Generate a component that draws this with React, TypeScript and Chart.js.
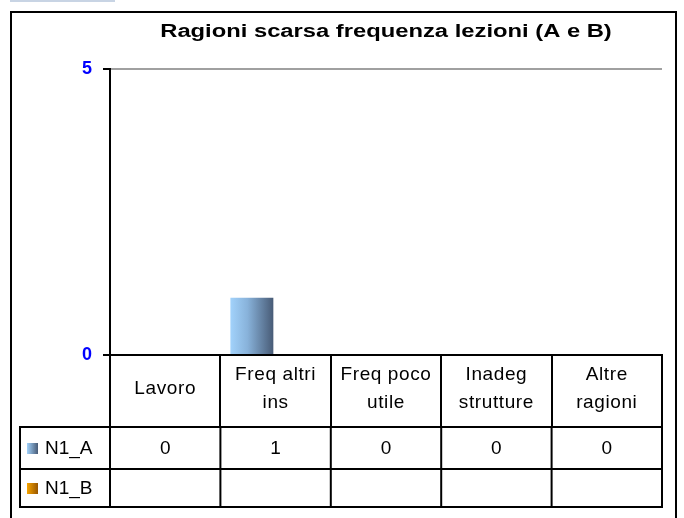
import React, { useEffect, useRef } from 'react';
import { Chart, registerables } from 'chart.js';

Chart.register(...registerables);

const TITLE = 'Ragioni scarsa frequenza lezioni (A e B)';
const categories: string[][] = [
  ['Lavoro'],
  ['Freq altri', 'ins'],
  ['Freq poco', 'utile'],
  ['Inadeg', 'strutture'],
  ['Altre', 'ragioni'],
];
const seriesNames = ['N1_A', 'N1_B'];
const n1A: (number | null)[] = [0, 1, 0, 0, 0];
const n1B: (number | null)[] = [null, null, null, null, null];
const yMin = 0;
const yMax = 5;
const yStep = 5;

const FONT = '"Liberation Sans", Arial, sans-serif';
const gradA = ['#a2d2fb', '#88b2da', '#485b76'];
const gradB = ['#f6a400', '#d68800', '#985600'];
const CAT_PCT = 0.86;
const BAR_PCT = 0.905;

function barGradient(ctx: any, stops: string[], dsIndex: number) {
  const chart = ctx.chart;
  const xs = chart.scales?.x;
  if (!xs || !chart.chartArea) return stops[0];
  const n = categories.length;
  const catW = (xs.right - xs.left) / n;
  const slot = (catW * CAT_PCT) / 2;
  const barW = slot * BAR_PCT;
  const center = xs.getPixelForValue(ctx.dataIndex ?? 0);
  const left = center - (catW * CAT_PCT) / 2 + dsIndex * slot + (slot - barW) / 2;
  const g = chart.ctx.createLinearGradient(left, 0, left + barW, 0);
  g.addColorStop(0, stops[0]);
  g.addColorStop(0.4, stops[1]);
  g.addColorStop(1, stops[2]);
  return g;
}

const spacingPlugin = {
  id: 'textSpacing',
  beforeDraw(chart: any) {
    chart.ctx.letterSpacing = '0.6px';
  },
  afterDraw(chart: any) {
    chart.ctx.letterSpacing = '0px';
  },
};

const titlePlugin = {
  id: 'stretchedTitle',
  afterDraw(chart: any) {
    const ctx = chart.ctx;
    const ca = chart.chartArea;
    const cx = (ca.left + ca.right) / 2;
    ctx.save();
    ctx.letterSpacing = '0px';
    ctx.translate(cx, 37);
    ctx.scale(1.32, 1);
    ctx.font = `bold 18px ${FONT}`;
    ctx.fillStyle = '#000';
    ctx.textAlign = 'center';
    ctx.textBaseline = 'alphabetic';
    ctx.fillText(TITLE, 0, 0);
    ctx.restore();
  },
};

const tablePlugin = {
  id: 'dataTable',
  afterDraw(chart: any) {
    const ctx = chart.ctx;
    const xs = chart.scales.x;
    const n = categories.length;
    const top = xs.bottom;
    const rowH = [42, 38];
    const tableLeft = 20;
    const edges: number[] = [];
    for (let i = 0; i <= n; i++) edges.push(xs.left + ((xs.right - xs.left) * i) / n);
    const bottom = top + rowH[0] + rowH[1];
    ctx.save();
    ctx.strokeStyle = '#000';
    ctx.lineWidth = 2;
    ctx.beginPath();
    const ys = [top, top + rowH[0], bottom];
    ys.forEach((yy) => {
      ctx.moveTo(tableLeft, yy);
      ctx.lineTo(xs.right + 1, yy);
    });
    ctx.moveTo(tableLeft, top - 1);
    ctx.lineTo(tableLeft, bottom + 1);
    edges.forEach((x) => {
      ctx.moveTo(x, top - 1);
      ctx.lineTo(x, bottom + 1);
    });
    ctx.stroke();

    const rows = [n1A, n1B];
    const grads = [gradA, gradB];
    ctx.font = `19px ${FONT}`;
    ctx.textBaseline = 'middle';
    let y = top;
    rows.forEach((vals, r) => {
      const cy = y + rowH[r] / 2;
      const g = ctx.createLinearGradient(27, 0, 38, 0);
      g.addColorStop(0, grads[r][0]);
      g.addColorStop(1, grads[r][2]);
      ctx.fillStyle = g;
      ctx.fillRect(27, cy - 5, 11, 11);
      ctx.fillStyle = '#000';
      ctx.textAlign = 'left';
      ctx.fillText(seriesNames[r], 45, cy + 1);
      ctx.textAlign = 'center';
      vals.forEach((v, i) => {
        if (v === null || v === undefined) return;
        ctx.fillText(String(v), (edges[i] + edges[i + 1]) / 2, cy + 1);
      });
      y += rowH[r];
    });
    ctx.restore();
  },
};

export default function App() {
  const ref = useRef<HTMLCanvasElement | null>(null);
  useEffect(() => {
    if (!ref.current) return;
    const chart = new Chart(ref.current, {
      type: 'bar',
      data: {
        labels: categories,
        datasets: [
          {
            label: seriesNames[0],
            data: n1A,
            backgroundColor: (c: any) => barGradient(c, gradA, 0),
            borderWidth: 0,
            categoryPercentage: CAT_PCT,
            barPercentage: BAR_PCT,
          },
          {
            label: seriesNames[1],
            data: n1B,
            backgroundColor: (c: any) => barGradient(c, gradB, 1),
            borderWidth: 0,
            categoryPercentage: CAT_PCT,
            barPercentage: BAR_PCT,
          },
        ],
      },
      options: {
        responsive: false,
        animation: false,
        layout: { padding: { left: 110, right: 22, top: 69, bottom: 91 } },
        plugins: {
          legend: { display: false },
          tooltip: { enabled: false },
          title: { display: false },
        },
        scales: {
          x: {
            offset: true,
            grid: {
              offset: true,
              drawOnChartArea: false,
              drawTicks: true,
              tickLength: 72,
              tickColor: '#000',
              lineWidth: 2,
            },
            border: { display: true, color: '#000', width: 2 },
            ticks: {
              color: '#000',
              font: { family: FONT, size: 19, lineHeight: 1.5 },
              autoSkip: false,
              maxRotation: 0,
              minRotation: 0,
              crossAlign: 'center',
              padding: -52.5,
            },
            afterFit: (s: any) => {
              s.height = 72;
            },
          },
          y: {
            min: yMin,
            max: yMax,
            grid: {
              color: (c: any) => (c.tick && c.tick.value === 0 ? '#000' : '#a0a0a0'),
              tickColor: '#000',
              lineWidth: 2,
              tickLength: 7,
              drawTicks: true,
            },
            border: { display: true, color: '#000', width: 2 },
            ticks: {
              stepSize: yStep,
              color: '#0000ff',
              font: { family: FONT, size: 18, weight: 'bold' },
              mirror: true,
              crossAlign: 'near',
              padding: -28,
            },
            afterFit: (s: any) => {
              s.width = 0;
            },
          },
        },
      },
      plugins: [spacingPlugin, titlePlugin, tablePlugin],
    });
    return () => chart.destroy();
  }, []);

  return (
    <div style={{ position: 'fixed', left: 0, top: 0, width: 684, height: 518, background: '#fff', overflow: 'hidden' }}>
      <div style={{ position: 'absolute', left: 10, top: 0, width: 105, height: 2, background: '#c8d4e4' }} />
      <canvas ref={ref} width={684} height={518} style={{ position: 'absolute', left: 0, top: 0, width: 684, height: 518 }} />
      <div
        style={{
          position: 'absolute',
          left: 10,
          top: 11,
          width: 663,
          height: 520,
          border: '2px solid #000',
          pointerEvents: 'none',
        }}
      />
    </div>
  );
}
